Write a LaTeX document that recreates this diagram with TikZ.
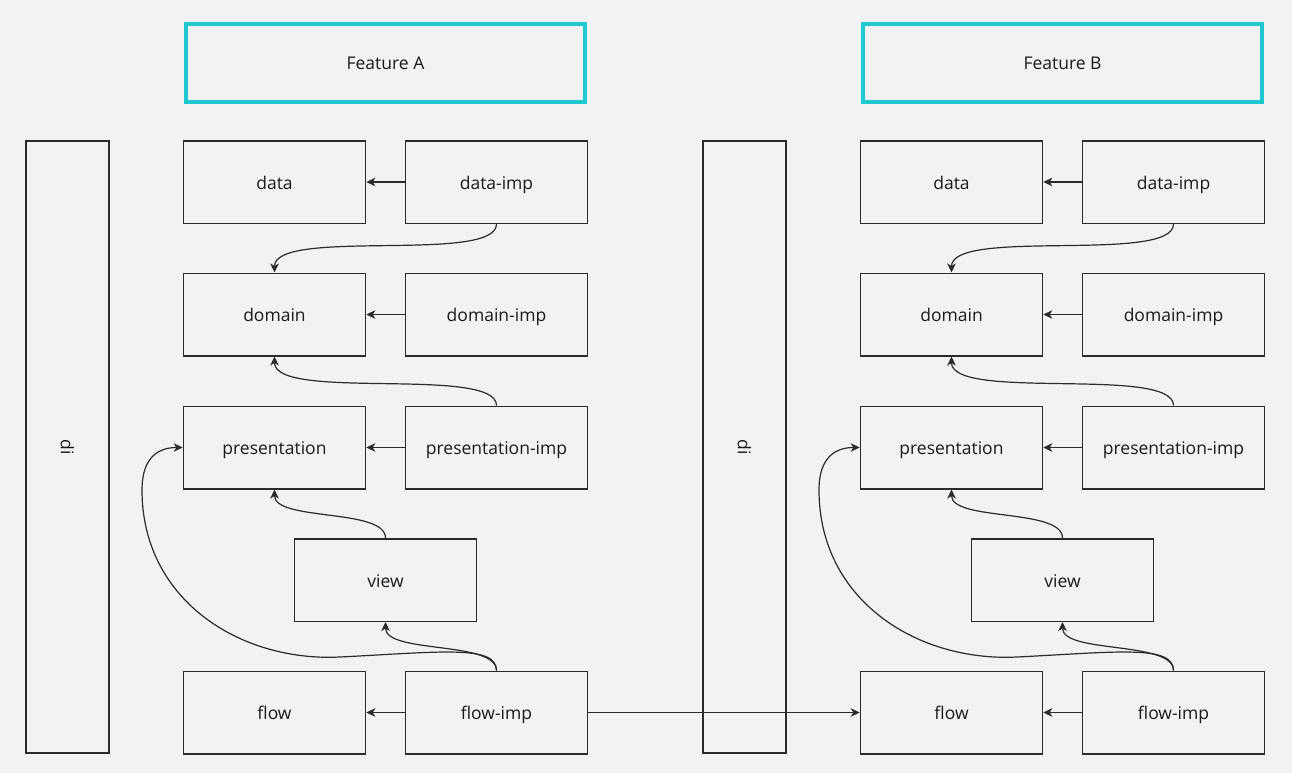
\documentclass[tikz,border=0pt]{standalone}
\usepackage{fontspec}
\setmainfont{Open Sans}
\usetikzlibrary{arrows.meta}
\definecolor{bg}{HTML}{F2F2F2}
\definecolor{ink}{HTML}{2B2B2B}
\definecolor{txt}{HTML}{1A1A1A}
\definecolor{feat}{HTML}{1EC8D0}
\begin{document}
\begin{tikzpicture}[x=1pt,y=-1pt,
  lbl/.style={text=txt,font=\fontsize{17.5}{21}\selectfont,text height=14pt,text depth=0pt},
  box/.style={lbl,draw=ink,line width=1.5pt,minimum width=182pt,minimum height=82.5pt,inner sep=0pt},
  featbox/.style={lbl,draw=feat,line width=4.5pt,minimum width=399pt,minimum height=78pt,inner sep=0pt},
  dibox/.style={draw=ink,line width=1.5pt,minimum width=83pt,minimum height=612pt,inner sep=0pt},
  conn/.style={draw=ink,line width=1.2pt,-{Stealth[length=9pt,width=8.5pt,inset=2.5pt]}}]
\fill[bg] (0,0) rectangle (1292,773);
\useasboundingbox (0,0) rectangle (1292,773);
\foreach \s/\o/\t in {A/0/A,B/677/B}{
\begin{scope}[xshift=\o pt]
  \node[featbox] (feat\s) at (385.5,63) {Feature \t};
  \node[dibox] (di\s) at (67.5,447) {\rotatebox{-90}{\fontsize{17.5}{21}\selectfont\color{txt}di}};
  \node[box] (data\s) at (274.5,182) {data};
  \node[box] (dataimp\s) at (496.5,182) {data-imp};
  \node[box] (domain\s) at (274.5,314.5) {domain};
  \node[box] (domainimp\s) at (496.5,314.5) {domain-imp};
  \node[box] (pres\s) at (274.5,447.5) {presentation};
  \node[box] (presimp\s) at (496.5,447.5) {presentation-imp};
  \node[box] (view\s) at (385.5,580) {view};
  \node[box] (flow\s) at (274.5,712.5) {flow};
  \node[box] (flowimp\s) at (496.5,712.5) {flow-imp};
  \coordinate (m1\s) at (340,657);
  \coordinate (m2\s) at (142,490);
  \draw[conn] (dataimp\s) -- (data\s);
  \draw[conn] (domainimp\s) -- (domain\s);
  \draw[conn] (presimp\s) -- (pres\s);
  \draw[conn] (flowimp\s) -- (flow\s);
  \draw[conn] (dataimp\s.south) .. controls +(0,40) and +(0,-45) .. (domain\s.north);
  \draw[conn] (presimp\s.north) .. controls +(0,-40) and +(0,45) .. (domain\s.south);
  \draw[conn] (view\s.north) .. controls +(0,-30) and +(0,32) .. (pres\s.south);
  \draw[conn] (flowimp\s.north) .. controls +(0,-30) and +(0,32) .. (view\s.south);
  \draw[conn] (flowimp\s.north) .. controls +(0,-26) and +(100,-5) .. (m1\s)
     .. controls +(-100,5) and +(0,110) .. (m2\s)
     .. controls +(0,-35) and +(-22,0) .. (pres\s.west);
\end{scope}
}
\draw[conn] (flowimpA) -- (flowB);
\end{tikzpicture}
\end{document}
